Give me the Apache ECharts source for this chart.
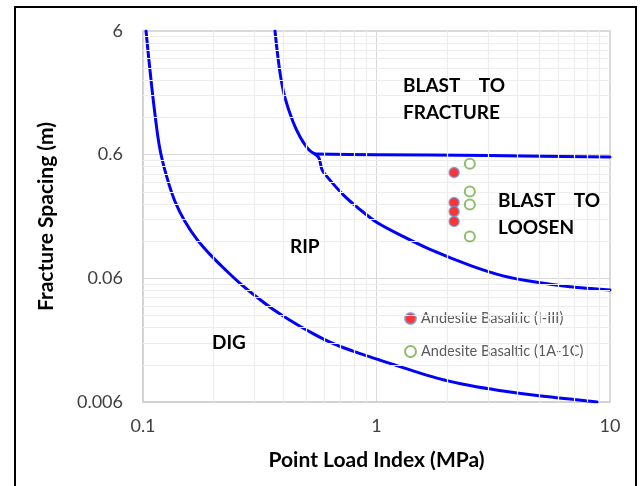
<!DOCTYPE html>
<html>
<head>
<meta charset="utf-8">
<script src="https://cdn.jsdelivr.net/npm/echarts@6/dist/echarts.min.js"></script>
<style>
  html, body { margin: 0; padding: 0; background: #fff; }
  #chart { width: 642px; height: 486px; }
</style>
</head>
<body>
<div id="chart"></div>
<script>
// point load index (MPa) on x, fracture spacing (m) on y, both
const digRipX = [0.103, 0.1071, 0.1126, 0.1183, 0.1267, 0.1371, 0.1513, 0.1703, 0.1936, 0.2245, 0.2603, 0.3078, 0.3604, 0.4262, 0.504, 0.6322, 0.7931, 1.005, 1.299, 1.816, 2.514, 3.482, 4.869, 6.741, 8.8];
const digRipY = [6, 2.909, 1.261, 0.6584, 0.3914, 0.2507, 0.1729, 0.1238, 0.0937, 0.0709, 0.0547, 0.04216, 0.03374, 0.02751, 0.02284, 0.01829, 0.01547, 0.01333, 0.01139, 0.009364, 0.008148, 0.007362, 0.00677, 0.006343, 0.006];

const ripBlastX = [0.3675, 0.3786, 0.3899, 0.4056, 0.4389, 0.4703, 0.504, 0.5243, 0.5453, 0.5672, 0.5843, 0.6138, 0.7187, 0.85, 1.005, 1.299, 1.695, 2.514, 3.482, 4.869, 6.741, 10];
const ripBlastY = [6, 3.634, 2.461, 1.729, 1.107, 0.838, 0.6834, 0.6344, 0.6079, 0.5622, 0.4541, 0.3988, 0.2854, 0.216, 0.1697, 0.1309, 0.1028, 0.0764, 0.06284, 0.05571, 0.05125, 0.04828];

const fractureX = [0.5453, 1, 3, 10];
const fractureY = [0.6079, 0.6, 0.59, 0.575];

const andesiteIX = [2.15, 2.15, 2.15, 2.15];
const andesiteIY = [0.43, 0.246, 0.208, 0.173];
const andesite1AX = [2.51, 2.51, 2.51, 2.51];
const andesite1AY = [0.507, 0.302, 0.237, 0.131];

const xTickLabels = ['0.1', '1', '10'];
const yTickLabels = ['0.006', '0.06', '0.6', '6'];

// y axis is a log axis of spacing / 0.006 so the decades fall on 0.006, 0.06 ...
const Y0 = 0.006;
const minorSteps = [2, 3, 4, 5, 6, 7, 8, 9];
const xMinor = [];
[0.1, 1].forEach(d => minorSteps.forEach(k => xMinor.push(d * k)));
const yMinor = [];
[1, 10, 100].forEach(d => minorSteps.forEach(k => yMinor.push(d * k)));

const FONT = 'Lato, "Noto Sans", sans-serif';
const pairs = (xs, ys) => xs.map((x, i) => [x, ys[i] / Y0]);

const chart = echarts.init(document.getElementById('chart'));

const curve = (xs, ys, smooth) => ({
  type: 'line',
  data: pairs(xs, ys),
  smooth: smooth,
  showSymbol: false,
  symbol: 'none',
  lineStyle: { color: '#0000ff', width: 3, cap: 'round', join: 'round' },
  z: 3,
  silent: true
});

const regionLabel = (text, x, y) => ({
  type: 'text',
  x: x,
  y: y,
  z: 50,
  style: {
    text: text,
    fontFamily: FONT,
    fontSize: 19,
    fontWeight: 'bold',
    fill: '#000',
    verticalAlign: 'middle'
  }
});

chart.setOption({
  animation: false,
  grid: {
    left: 143, right: 32, top: 31, bottom: 84,
    show: true, borderColor: '#cfcfcf', borderWidth: 1.5
  },
  xAxis: {
    type: 'log',
    logBase: 10,
    min: 0.1,
    max: 10,
    axisLine: { show: true, lineStyle: { color: '#d0d0d0', width: 1.5 } },
    axisTick: { show: false },
    axisLabel: {
      fontFamily: FONT, fontSize: 18, color: '#404040', margin: 15,
      formatter: v => xTickLabels[Math.round(Math.log10(v)) + 1]
    },
    splitLine: { show: true, lineStyle: { color: '#d9d9d9', width: 1 } },
    name: 'Point Load Index (MPa)',
    nameLocation: 'middle',
    nameGap: 48,
    nameTextStyle: { fontFamily: FONT, fontSize: 21, fontWeight: 'bold', color: '#000' }
  },
  yAxis: {
    type: 'log',
    logBase: 10,
    min: 1,
    max: 1000,
    axisLine: { show: true, lineStyle: { color: '#d0d0d0', width: 1.5 } },
    axisTick: { show: false },
    axisLabel: {
      fontFamily: FONT, fontSize: 18, color: '#404040', margin: 20,
      formatter: v => yTickLabels[Math.round(Math.log10(v))]
    },
    splitLine: { show: true, lineStyle: { color: '#d9d9d9', width: 1 } },
    name: 'Fracture Spacing (m)',
    nameLocation: 'middle',
    nameGap: 86,
    nameTextStyle: { fontFamily: FONT, fontSize: 21, fontWeight: 'bold', color: '#000' }
  },
  legend: {
    orient: 'vertical',
    left: 399,
    top: 305,
    itemWidth: 11,
    itemHeight: 11,
    itemGap: 16,
    textStyle: {
      fontFamily: FONT, fontSize: 14.5, color: '#595959',
      textBorderColor: '#ffffff', textBorderWidth: 2
    },
    data: ['Andesite Basaltic (I-III)', 'Andesite Basaltic (1A-1C)']
  },
  series: [
    {
      // minor log gridlines
      type: 'line',
      data: [[1, 1]],
      symbol: 'none',
      lineStyle: { opacity: 0 },
      silent: true,
      z: 1,
      markLine: {
        silent: true,
        symbol: ['none', 'none'],
        label: { show: false },
        lineStyle: { color: '#ededed', width: 1.2, type: 'solid' },
        data: xMinor.map(v => ({ xAxis: v })).concat(yMinor.map(v => ({ yAxis: v })))
      }
    },
    curve(digRipX, digRipY, 0.4),
    curve(ripBlastX, ripBlastY, 0.3),
    curve(fractureX, fractureY, 0.3),
    {
      name: 'Andesite Basaltic (I-III)',
      type: 'scatter',
      data: pairs(andesiteIX, andesiteIY),
      symbol: 'circle',
      symbolSize: 10,
      itemStyle: { color: '#ff0000', borderColor: '#6b9bd8', borderWidth: 1.5 },
      z: 5
    },
    {
      name: 'Andesite Basaltic (1A-1C)',
      type: 'scatter',
      data: pairs(andesite1AX, andesite1AY),
      symbol: 'circle',
      symbolSize: 10,
      itemStyle: { color: '#ffffff', borderColor: '#70ad47', borderWidth: 2 },
      z: 5
    }
  ],
  graphic: [
    {
      type: 'rect',
      shape: { x: 15, y: 7, width: 621, height: 520 },
      style: { fill: 'none', stroke: '#000', lineWidth: 2 },
      z: 100
    },
    regionLabel('BLAST    TO', 403, 86),
    regionLabel('FRACTURE', 403, 113),
    regionLabel('BLAST    TO', 498, 201),
    regionLabel('LOOSEN', 498, 228),
    regionLabel('RIP', 290, 247),
    regionLabel('DIG', 212, 343)
  ]
});
</script>
</body>
</html>
